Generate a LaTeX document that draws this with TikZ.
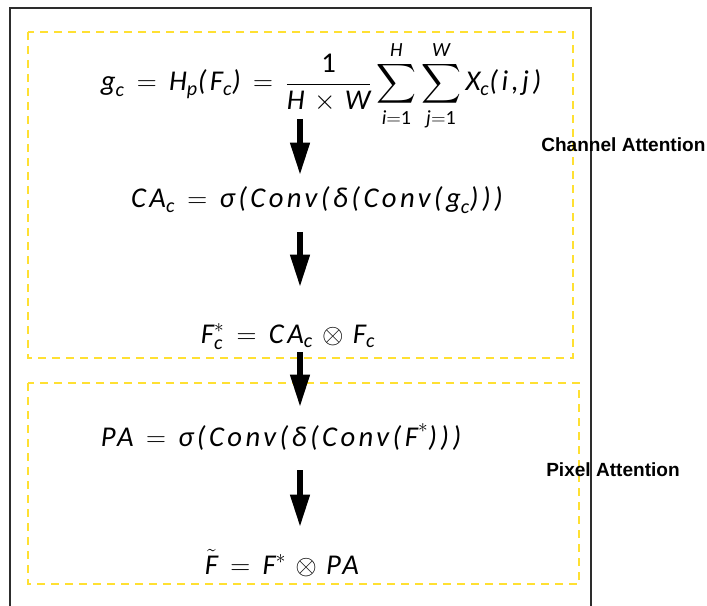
\documentclass[tikz,border=0pt]{standalone}
\usepackage{amsmath}
\usepackage{fontspec}
\usepackage{tikz}
\usetikzlibrary{arrows.meta, calc}
\setmainfont{Liberation Sans}
\newfontfamily\eqfont{Carlito}[LetterSpace=12]
\definecolor{boxyellow}{RGB}{255, 224, 50}
\definecolor{framegray}{RGB}{45, 45, 45}
% italic and upright letters of the formulas
\newcommand{\ev}[1]{\text{\eqfont\itshape #1}}
\newcommand{\en}[1]{\text{\eqfont #1}}
\thickmuskip=8mu plus 2mu
\medmuskip=6mu plus 2mu

\begin{document}
\begin{tikzpicture}[x=0.75pt, y=-0.75pt,
    eqn/.style={anchor=base, inner sep=0pt, font=\fontsize{21.5}{25}\selectfont},
    attn/.style={anchor=west, inner sep=0pt, font=\fontsize{14.3}{17}\selectfont\bfseries},
    yellowbox/.style={draw=boxyellow, line width=1.5pt, dash pattern=on 6pt off 4.5pt},
    bigarrow/.style={-{Triangle[width=13.5pt, length=25pt]}, line width=5.2pt}]
    \useasboundingbox (0,0) rectangle (707,606);
    % outer frame
    \draw[framegray, line width=0.8pt] (10,606) -- (10,8) -- (591,8) -- (591,606);
    % attention blocks
    \draw[yellowbox] (28,32) rectangle (573,358);
    \draw[yellowbox] (28,383) rectangle (579,584);
    % formulas
    \node[eqn] (gc) at (321,91) {$\displaystyle \ev{g}_{\ev{c}} = \ev{H}_{\ev{p}}\ev{(F}_{\ev{c}}\ev{)} = \frac{\en{1}}{\ev{H}\times\ev{W}}\sum_{\ev{i}=\en{1}}^{\ev{H}}\sum_{\ev{j}=\en{1}}^{\ev{W}}\ev{X}_{\ev{c}}\ev{(i,j)}$};
    \node[eqn] (ca) at (317,208) {$\ev{CA}_{\ev{c}} = \ev{σ(Conv(δ(Conv(g}_{\ev{c}}\ev{)))}$};
    \node[eqn] (fc) at (288,343) {$\ev{F}_{\ev{c}}^{*} = \ev{CA}_{\ev{c}}\otimes\ev{F}_{\ev{c}}$};
    \node[eqn] (pa) at (281,446) {$\ev{PA} = \ev{σ(Conv(δ(Conv(F}^{*}\ev{)))}$};
    \node[eqn] (ft) at (282,574) {$\tilde{\ev{F}} = \ev{F}^{*}\otimes\ev{PA}$};
    % labels
    \node[attn] (chan) at (541,145) {Channel Attention};
    \node[attn] (pix) at (546,470) {Pixel Attention};
    % arrows
    \coordinate (mid) at (300,0);
    \draw[bigarrow] ($(gc.base -| mid)+(0,28)$) -- ($(ca.base -| mid)+(0,-32)$);
    \draw[bigarrow] ($(ca.base -| mid)+(0,24)$) -- ($(fc.base -| mid)+(0,-55)$);
    \draw[bigarrow] ($(fc.base -| mid)+(0,9)$) -- ($(pa.base -| mid)+(0,-38)$);
    \draw[bigarrow] ($(pa.base -| mid)+(0,24)$) -- ($(ft.base -| mid)+(0,-46)$);
\end{tikzpicture}
\end{document}
